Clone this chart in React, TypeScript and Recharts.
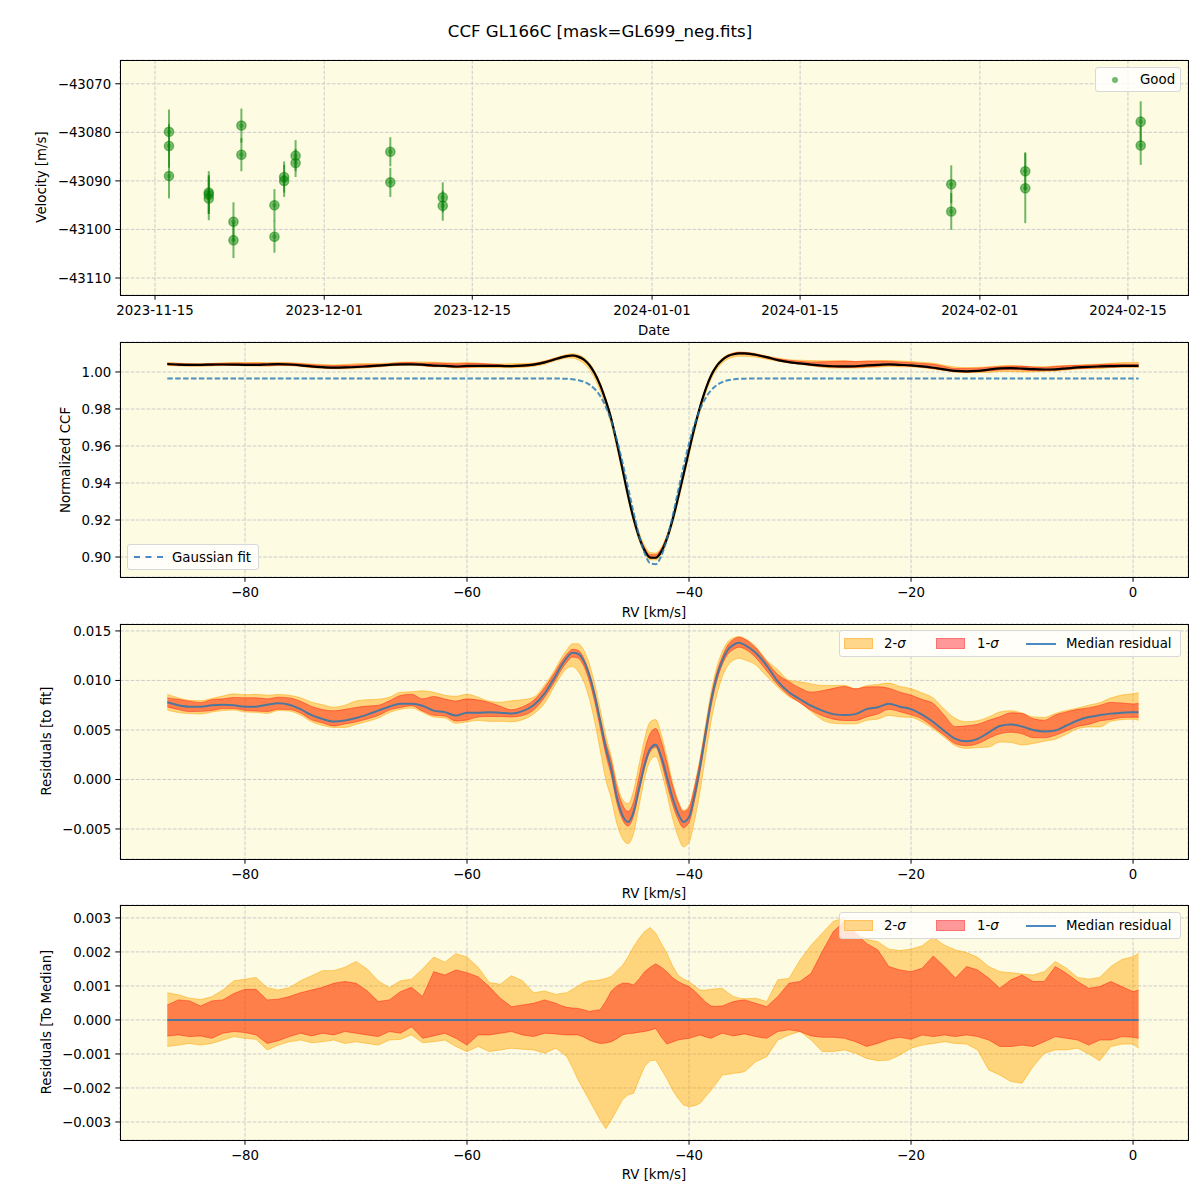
import React from "react";
import {
  ComposedChart,
  ScatterChart,
  Scatter,
  ErrorBar,
  Area,
  Line,
  XAxis,
  YAxis,
  CartesianGrid,
} from "recharts";

const FONT = "'DejaVu Sans', 'Liberation Sans', sans-serif";
const BG = "#fdfbe2";
const GRID = "#cccccc";
const MILLI = 1e-3;

// ---- top panel: radial velocities ----
const OBS_DATES = [
  "2023-11-16T07:40:00Z", "2023-11-16T07:40:00Z", "2023-11-16T07:40:00Z",
  "2023-11-20T02:00:00Z", "2023-11-20T02:00:00Z", "2023-11-20T02:00:00Z",
  "2023-11-22T10:00:00Z", "2023-11-22T10:00:00Z",
  "2023-11-23T04:00:00Z", "2023-11-23T04:00:00Z",
  "2023-11-26T07:00:00Z", "2023-11-26T07:00:00Z",
  "2023-11-27T05:00:00Z", "2023-11-27T05:00:00Z",
  "2023-11-28T07:00:00Z", "2023-11-28T07:00:00Z",
  "2023-12-07T06:00:00Z", "2023-12-07T06:00:00Z",
  "2023-12-12T05:00:00Z", "2023-12-12T05:00:00Z",
  "2024-01-29T07:00:00Z", "2024-01-29T07:00:00Z",
  "2024-02-05T07:00:00Z", "2024-02-05T07:00:00Z",
  "2024-02-16T05:00:00Z", "2024-02-16T05:00:00Z",
];
const OBS_VEL = [
  -43079.9, -43082.8, -43089.0,
  -43092.4, -43092.8, -43093.6,
  -43098.4, -43102.2,
  -43078.6, -43084.6,
  -43095.0, -43101.5,
  -43089.2, -43090.0,
  -43084.8, -43086.3,
  -43084.0, -43090.3,
  -43093.4, -43095.1,
  -43090.7, -43096.3,
  -43088.0, -43091.5,
  -43077.8, -43082.7,
];
const OBS_ERR = [
  4.6, 4.5, 4.6,
  4.4, 4.0, 4.5,
  4.0, 3.7,
  3.5, 3.4,
  3.3, 3.3,
  3.2, 3.3,
  3.2, 2.9,
  3.0, 3.0,
  3.1, 3.1,
  3.9, 3.8,
  3.9, 7.2,
  4.2, 4.0,
];
const DATE_TICKS = ["2023-11-15", "2023-12-01", "2023-12-15", "2024-01-01", "2024-01-15", "2024-02-01", "2024-02-15"];
const VEL_TICKS = [-43110, -43100, -43090, -43080, -43070];

// ---- CCF panels ----
const RV = [
  -87, -86, -85, -84, -83, -82, -81, -80, -79, -78, -77, -76, -75, -74, -73, -72, -71, -70,
  -69, -68, -67, -66, -65, -64, -63, -62, -61, -60, -59, -58, -57, -56, -55, -54, -53, -52,
  -51.5, -51, -50.5, -50, -49.5, -49, -48.5, -48, -47.5, -47, -46.5, -46, -45.5, -45, -44.5, -44, -43.5,
  -43, -42.5, -42, -41.5, -41, -40.5, -40, -39.5, -39, -38.5, -38, -37.5, -37, -36.5, -36, -35.5, -35,
  -34, -33, -32, -31, -30, -29, -28, -27, -26, -25, -24, -23, -22, -21, -20, -19, -18, -17,
  -16, -15, -14, -13, -12, -11, -10, -9, -8, -7, -6, -5, -4, -3, -2, -1, 0, 0.5,
];
const GAUSS_FIT = [
  0.9965, 0.9965, 0.9965, 0.9965, 0.9965, 0.9965, 0.9965, 0.9965, 0.9965, 0.9965, 0.9965, 0.9965,
  0.9965, 0.9965, 0.9965, 0.9965, 0.9965, 0.9965, 0.9965, 0.9965, 0.9965, 0.9965, 0.9965, 0.9965,
  0.9965, 0.9965, 0.9965, 0.9965, 0.9965, 0.9965, 0.9965, 0.9965, 0.9965, 0.9965, 0.9965, 0.9965,
  0.9964, 0.9963, 0.9961, 0.9956, 0.9948, 0.9933, 0.9908, 0.987, 0.9813, 0.9735, 0.9634, 0.9513,
  0.9378, 0.9242, 0.9117, 0.9021, 0.8966, 0.8961, 0.9006, 0.9095, 0.9215, 0.9351, 0.9487, 0.9613,
  0.9717, 0.9799, 0.986, 0.9902, 0.9929, 0.9945, 0.9955, 0.996, 0.9963, 0.9964,
  0.9965, 0.9965, 0.9965, 0.9965, 0.9965, 0.9965, 0.9965, 0.9965, 0.9965, 0.9965, 0.9965, 0.9965,
  0.9965, 0.9965, 0.9965, 0.9965, 0.9965, 0.9965, 0.9965, 0.9965, 0.9965, 0.9965, 0.9965, 0.9965,
  0.9965, 0.9965, 0.9965, 0.9965, 0.9965, 0.9965, 0.9965, 0.9965, 0.9965, 0.9965, 0.9965, 0.9965,
];
// median residual to the fit, in units of 1e-3
const MEDIAN_RES_MILLI = [
  7.8, 7.5, 7.35, 7.35, 7.5, 7.55, 7.5, 7.35, 7.35, 7.55, 7.7, 7.55, 7.1, 6.5, 6.1, 5.85, 5.95, 6.2,
  6.55, 6.95, 7.35, 7.65, 7.65, 7.45, 6.95, 6.8, 6.45, 6.75, 6.75, 6.8, 6.75, 6.65, 6.9, 7.5, 8.7, 10.5,
  11.5, 12.3, 12.8, 12.7, 12.0, 10.6, 8.5, 5.9, 3.2, 1.0, -1.8, -3.6, -4.3, -3.3, -0.9, 1.5, 3.1,
  3.5, 2.3, 0.3, -1.8, -3.4, -4.3, -3.8, -1.6, 1.3, 4.7, 8.0, 10.4, 12.0, 13.1, 13.6, 13.8, 13.6,
  12.8, 11.5, 9.9, 8.8, 8.1, 7.45, 6.95, 6.6, 6.5, 6.6, 7.1, 7.3, 7.65, 7.35, 7.1, 6.55, 5.8, 4.9,
  4.1, 3.85, 4.1, 4.75, 5.4, 5.55, 5.35, 5.0, 4.85, 4.95, 5.45, 5.95, 6.3, 6.5, 6.65, 6.75, 6.8, 6.8,
];
// spread of the individual CCFs around the median, in units of 1e-3
const SIG2_HI_MILLI = [
  0.8, 0.74, 0.64, 0.6, 0.68, 0.88, 1.15, 1.2, 1.25, 0.95, 0.88, 0.95, 1.15, 1.3, 1.45, 1.45, 1.55, 1.72,
  1.5, 1.15, 0.95, 1.15, 1.2, 1.5, 1.85, 1.7, 1.95, 1.85, 1.55, 1.1, 1.05, 1.3, 1.15, 0.8, 0.85, 0.75,
  0.78, 0.8, 0.9, 1.0, 1.1, 1.15, 1.15, 1.18, 1.22, 1.28, 1.45, 1.6, 1.85, 2.15, 2.4, 2.6, 2.72,
  2.55, 2.25, 1.96, 1.6, 1.32, 1.2, 1.13, 1.0, 0.88, 0.88, 0.9, 0.92, 0.93, 0.8, 0.69, 0.64, 0.62,
  0.64, 0.54, 1.18, 1.22, 1.76, 2.2, 2.55, 2.9, 3.0, 2.55, 2.37, 2.3, 2.08, 2.04, 2.08, 2.18, 2.43, 2.2,
  2.06, 1.98, 1.84, 1.57, 1.42, 1.39, 1.35, 1.32, 1.42, 1.72, 1.52, 1.25, 1.2, 1.25, 1.57, 1.78, 1.86, 1.96,
];
const SIG1_HI_MILLI = [
  0.44, 0.59, 0.56, 0.41, 0.56, 0.59, 0.78, 0.9, 0.9, 0.59, 0.61, 0.69, 0.8, 0.88, 0.96, 1.08, 1.13, 1.08,
  0.86, 0.54, 0.59, 0.83, 0.96, 0.69, 1.42, 1.32, 1.47, 1.39, 1.27, 0.98, 0.64, 0.39, 0.44, 0.49, 0.59, 0.49,
  0.42, 0.37, 0.35, 0.34, 0.3, 0.25, 0.28, 0.3, 0.55, 0.85, 1.0, 1.08, 1.08, 1.03, 1.2, 1.42, 1.55,
  1.65, 1.55, 1.42, 1.25, 1.13, 1.05, 0.98, 0.85, 0.69, 0.52, 0.41, 0.4, 0.41, 0.48, 0.54, 0.57, 0.59,
  0.49, 0.39, 0.69, 1.08, 1.13, 1.37, 2.01, 2.6, 2.9, 2.55, 2.25, 2.06, 1.57, 1.47, 1.42, 1.52, 1.88, 1.57,
  1.23, 1.57, 1.47, 1.23, 0.93, 1.18, 1.32, 1.13, 1.13, 1.57, 1.37, 1.13, 0.93, 0.98, 1.13, 0.98, 0.83, 0.88,
];
const SIG1_LO_MILLI = [
  -0.47, -0.44, -0.49, -0.47, -0.54, -0.39, -0.34, -0.37, -0.44, -0.69, -0.61, -0.49, -0.39, -0.47, -0.39, -0.44, -0.34, -0.39,
  -0.44, -0.49, -0.34, -0.39, -0.2, -0.54, -0.47, -0.39, -0.54, -0.74, -0.44, -0.44, -0.39, -0.34, -0.44, -0.49, -0.39, -0.41,
  -0.43, -0.44, -0.44, -0.44, -0.5, -0.59, -0.65, -0.69, -0.68, -0.64, -0.55, -0.44, -0.4, -0.39, -0.36, -0.34, -0.3,
  -0.25, -0.5, -0.71, -0.65, -0.59, -0.56, -0.54, -0.49, -0.44, -0.5, -0.54, -0.46, -0.39, -0.43, -0.47, -0.44, -0.41,
  -0.49, -0.54, -0.34, -0.29, -0.34, -0.47, -0.51, -0.51, -0.54, -0.64, -0.78, -0.69, -0.57, -0.51, -0.57, -0.44, -0.49, -0.44,
  -0.49, -0.44, -0.49, -0.59, -0.78, -0.78, -0.74, -0.78, -0.64, -0.49, -0.54, -0.59, -0.74, -0.59, -0.59, -0.49, -0.51, -0.54,
];
const SIG2_LO_MILLI = [
  -0.78, -0.74, -0.69, -0.74, -0.69, -0.59, -0.49, -0.54, -0.57, -0.88, -0.74, -0.64, -0.59, -0.67, -0.64, -0.59, -0.69, -0.64,
  -0.69, -0.74, -0.59, -0.57, -0.44, -0.67, -0.64, -0.59, -0.78, -0.93, -0.78, -0.93, -0.88, -0.83, -0.86, -0.88, -0.98, -0.83,
  -0.95, -1.08, -1.4, -1.76, -2.05, -2.35, -2.65, -2.94, -3.2, -2.94, -2.65, -2.35, -2.2, -2.16, -1.75, -1.37, -1.2,
  -1.18, -1.45, -1.72, -2.05, -2.3, -2.5, -2.55, -2.52, -2.45, -2.25, -2.06, -1.85, -1.62, -1.6, -1.57, -1.55, -1.52,
  -1.23, -1.08, -0.59, -0.44, -0.34, -0.59, -0.93, -0.93, -0.88, -0.98, -1.13, -1.2, -1.18, -1.03, -0.83, -0.74, -0.69, -0.64,
  -0.69, -0.71, -0.88, -1.47, -1.62, -1.81, -1.86, -1.37, -0.98, -0.88, -0.88, -0.83, -1.0, -1.2, -0.78, -0.71, -0.71, -0.83,
];

const RV_TICKS = [-80, -60, -40, -20, 0];
const CCF_TICKS = [0.9, 0.92, 0.94, 0.96, 0.98, 1.0];
const RES_TICKS = [-0.005, 0, 0.005, 0.01, 0.015];
const DEV_TICKS = [-0.003, -0.002, -0.001, 0, 0.001, 0.002, 0.003];

const obs = OBS_DATES.map((d, i) => ({ t: Date.parse(d), v: OBS_VEL[i], err: OBS_ERR[i] }));

const rows = RV.map((rv, i) => {
  const g = GAUSS_FIT[i];
  const m = MEDIAN_RES_MILLI[i] * MILLI;
  const lo1 = SIG1_LO_MILLI[i] * MILLI;
  const hi1 = SIG1_HI_MILLI[i] * MILLI;
  const lo2 = SIG2_LO_MILLI[i] * MILLI;
  const hi2 = SIG2_HI_MILLI[i] * MILLI;
  return {
    rv,
    gauss: g,
    ccf: g + m,
    ccf1: [g + m + lo1, g + m + hi1],
    ccf2: [g + m + lo2, g + m + hi2],
    med: m,
    res1: [m + lo1, m + hi1],
    res2: [m + lo2, m + hi2],
    zero: 0,
    dev1: [lo1, hi1],
    dev2: [lo2, hi2],
  };
});

const minus = (s: string) => s.replace("-", "\u2212");
const fmt = (digits: number) => (v: number) => minus(Math.abs(v) < 1e-12 ? (0).toFixed(digits) : v.toFixed(digits));
const fmtDate = (t: number) => new Date(t).toISOString().slice(0, 10);

const TICK = { fontSize: 13.33, fill: "#000", fontFamily: FONT };
const PLOT_LEFT = 120;
const PLOT_W = 1068;
const PLOT_H = 235;
const CHART_H = 280;
const MARGIN = { top: 10, right: 12, bottom: 5, left: 40 };
const RV_DOMAIN = [-91.26, 4.95];

function Frame({ top }: { top: number }) {
  return (
    <div
      style={{
        position: "absolute",
        left: PLOT_LEFT,
        top,
        width: PLOT_W + 1,
        height: PLOT_H + 1,
        border: "1px solid #000",
        boxSizing: "border-box",
        pointerEvents: "none",
      }}
    />
  );
}

function YLabel({ text, x, y }: { text: string; x: number; y: number }) {
  return (
    <div
      style={{
        position: "absolute",
        left: x,
        top: y,
        transform: "translate(-50%, -50%) rotate(-90deg)",
        whiteSpace: "nowrap",
        fontSize: 13.33,
      }}
    >
      {text}
    </div>
  );
}

function XLabel({ text, y }: { text: string; y: number }) {
  return (
    <div
      style={{
        position: "absolute",
        left: PLOT_LEFT + PLOT_W / 2,
        top: y,
        transform: "translate(-50%, -50%)",
        whiteSpace: "nowrap",
        fontSize: 13.33,
      }}
    >
      {text}
    </div>
  );
}

const legendBox: React.CSSProperties = {
  position: "absolute",
  background: "rgba(255,255,255,0.8)",
  border: "1px solid #d8d8d8",
  borderRadius: 3,
  boxSizing: "border-box",
  fontSize: 13.33,
};

function BandLegend({ top }: { top: number }) {
  const item: React.CSSProperties = { position: "absolute", top: 0, height: 27, lineHeight: "26px", whiteSpace: "nowrap" };
  return (
    <div style={{ ...legendBox, left: 839, top, width: 342, height: 27 }}>
      <div style={{ position: "absolute", left: 4, top: 7, width: 29, height: 11, background: "#ffd68a", border: "1px solid #ffc25a", boxSizing: "border-box" }} />
      <div style={{ ...item, left: 44 }}>
        2-<span style={{ fontStyle: "italic" }}>σ</span>
      </div>
      <div style={{ position: "absolute", left: 96, top: 7, width: 29, height: 11, background: "#ff9999", border: "1px solid #ff7070", boxSizing: "border-box" }} />
      <div style={{ ...item, left: 137 }}>
        1-<span style={{ fontStyle: "italic" }}>σ</span>
      </div>
      <div style={{ position: "absolute", left: 186, top: 12, width: 30, height: 2, background: "#4a8ac0" }} />
      <div style={{ ...item, left: 226 }}>Median residual</div>
    </div>
  );
}

function rvXAxis() {
  return (
    <XAxis
      type="number"
      dataKey="rv"
      domain={RV_DOMAIN}
      ticks={RV_TICKS}
      tickFormatter={fmt(0)}
      allowDataOverflow
      interval={0}
      height={30}
      tickSize={4.7}
      tickMargin={6}
      tick={TICK}
      tickLine={{ stroke: "#000" }}
      axisLine={false}
    />
  );
}

function rvYAxis(domain: number[], ticks: number[], digits: number) {
  return (
    <YAxis
      type="number"
      domain={domain}
      ticks={ticks}
      tickFormatter={fmt(digits)}
      allowDataOverflow
      interval={0}
      width={80}
      tickSize={4.7}
      tickMargin={4}
      tick={TICK}
      tickLine={{ stroke: "#000" }}
      axisLine={false}
    />
  );
}

const grid = <CartesianGrid stroke={GRID} strokeDasharray="3.7 1.6" fill={BG} fillOpacity={1} />;

export default function App() {
  return (
    <div style={{ position: "absolute", left: 0, top: 0, width: 1200, height: 1200, background: "#fff", fontFamily: FONT, color: "#000" }}>
      <div style={{ position: "absolute", left: 0, width: 1200, top: 22, textAlign: "center", fontSize: 16.6, lineHeight: "20px" }}>
        CCF GL166C [mask=GL699_neg.fits]
      </div>

      {/* panel 1: velocities */}
      <div style={{ position: "absolute", left: 0, top: 60 - MARGIN.top }}>
        <ScatterChart width={1200} height={CHART_H} margin={MARGIN}>
          {grid}
          <XAxis
            type="number"
            dataKey="t"
            domain={[Date.parse("2023-11-11T16:30:00Z"), Date.parse("2024-02-20T16:20:00Z")]}
            ticks={DATE_TICKS.map((d) => Date.parse(d))}
            tickFormatter={fmtDate}
            allowDataOverflow
            interval={0}
            height={30}
            tickSize={4.7}
            tickMargin={6}
            tick={TICK}
            tickLine={{ stroke: "#000" }}
            axisLine={false}
          />
          <YAxis
            type="number"
            dataKey="v"
            domain={[-43113.5, -43065.1]}
            ticks={VEL_TICKS}
            tickFormatter={fmt(0)}
            allowDataOverflow
            interval={0}
            width={80}
            tickSize={4.7}
            tickMargin={4}
            tick={TICK}
            tickLine={{ stroke: "#000" }}
            axisLine={false}
          />
          <Scatter
            data={obs}
            isAnimationActive={false}
            shape={(p: any) => (
              <g>
                <circle cx={p.cx} cy={p.cy} r={4.6} fill="#008000" fillOpacity={0.5} stroke="#008000" strokeOpacity={0.5} strokeWidth={1.4} />
                <circle cx={p.cx} cy={p.cy} r={2.4} fill="#008000" fillOpacity={0.35} />
              </g>
            )}
          >
            <ErrorBar dataKey="err" direction="y" width={0} stroke="#008000" strokeOpacity={0.55} strokeWidth={2} />
          </Scatter>
        </ScatterChart>
      </div>
      <Frame top={60} />
      <YLabel text="Velocity [m/s]" x={41} y={177} />
      <XLabel text="Date" y={330} />
      <div style={{ ...legendBox, left: 1095, top: 67, width: 86, height: 25 }}>
        <div style={{ position: "absolute", left: 16, top: 9, width: 6, height: 6, borderRadius: 3, background: "rgba(0,128,0,0.55)" }} />
        <div style={{ position: "absolute", left: 44, top: 0, lineHeight: "24px" }}>Good</div>
      </div>

      {/* panel 2: CCF */}
      <div style={{ position: "absolute", left: 0, top: 342 - MARGIN.top }}>
        <ComposedChart width={1200} height={CHART_H} margin={MARGIN} data={rows}>
          {grid}
          {rvXAxis()}
          {rvYAxis([0.8892, 1.0162], CCF_TICKS, 2)}
          <Area dataKey="ccf2" type="monotone" fill="#ffa500" fillOpacity={0.45} stroke="#ffa500" strokeOpacity={0.5} strokeWidth={1} isAnimationActive={false} />
          <Area dataKey="ccf1" type="monotone" fill="#ff0000" fillOpacity={0.4} stroke="#ff0000" strokeOpacity={0.4} strokeWidth={1} isAnimationActive={false} />
          <Line dataKey="ccf" type="monotone" stroke="#000" strokeWidth={2.2} dot={false} isAnimationActive={false} />
          <Line dataKey="gauss" type="monotone" stroke="#1f77b4" strokeOpacity={0.8} strokeWidth={2} strokeDasharray="5.5 2.4" dot={false} isAnimationActive={false} />
        </ComposedChart>
      </div>
      <Frame top={342} />
      <YLabel text="Normalized CCF" x={65} y={460} />
      <XLabel text="RV [km/s]" y={612} />
      <div style={{ ...legendBox, left: 127, top: 544, width: 132, height: 26 }}>
        <div style={{ position: "absolute", left: 6, top: 11, width: 29, height: 0, borderTop: "2px dashed #4a8ac0" }} />
        <div style={{ position: "absolute", left: 44, top: 0, lineHeight: "25px", whiteSpace: "nowrap" }}>Gaussian fit</div>
      </div>

      {/* panel 3: residuals to fit */}
      <div style={{ position: "absolute", left: 0, top: 624 - MARGIN.top }}>
        <ComposedChart width={1200} height={CHART_H} margin={MARGIN} data={rows}>
          {grid}
          {rvXAxis()}
          {rvYAxis([-0.00803, 0.0157], RES_TICKS, 3)}
          <Area dataKey="res2" type="monotone" fill="#ffa500" fillOpacity={0.45} stroke="#ffa500" strokeOpacity={0.5} strokeWidth={1} isAnimationActive={false} />
          <Area dataKey="res1" type="monotone" fill="#ff0000" fillOpacity={0.4} stroke="#ff0000" strokeOpacity={0.4} strokeWidth={1} isAnimationActive={false} />
          <Line dataKey="med" type="monotone" stroke="#1f77b4" strokeOpacity={0.8} strokeWidth={2} dot={false} isAnimationActive={false} />
        </ComposedChart>
      </div>
      <Frame top={624} />
      <YLabel text="Residuals [to fit]" x={46} y={741} />
      <XLabel text="RV [km/s]" y={893} />
      <BandLegend top={630} />

      {/* panel 4: residuals to median */}
      <div style={{ position: "absolute", left: 0, top: 905 - MARGIN.top }}>
        <ComposedChart width={1200} height={CHART_H} margin={MARGIN} data={rows}>
          {grid}
          {rvXAxis()}
          {rvYAxis([-0.00353, 0.00338], DEV_TICKS, 3)}
          <Area dataKey="dev2" type="linear" fill="#ffa500" fillOpacity={0.45} stroke="#ffa500" strokeOpacity={0.5} strokeWidth={1} isAnimationActive={false} />
          <Area dataKey="dev1" type="linear" fill="#ff0000" fillOpacity={0.4} stroke="#ff0000" strokeOpacity={0.4} strokeWidth={1} isAnimationActive={false} />
          <Line dataKey="zero" type="linear" stroke="#1f77b4" strokeOpacity={0.8} strokeWidth={2} dot={false} isAnimationActive={false} />
        </ComposedChart>
      </div>
      <Frame top={905} />
      <YLabel text="Residuals [To Median]" x={46} y={1022} />
      <XLabel text="RV [km/s]" y={1174} />
      <BandLegend top={912} />
    </div>
  );
}
